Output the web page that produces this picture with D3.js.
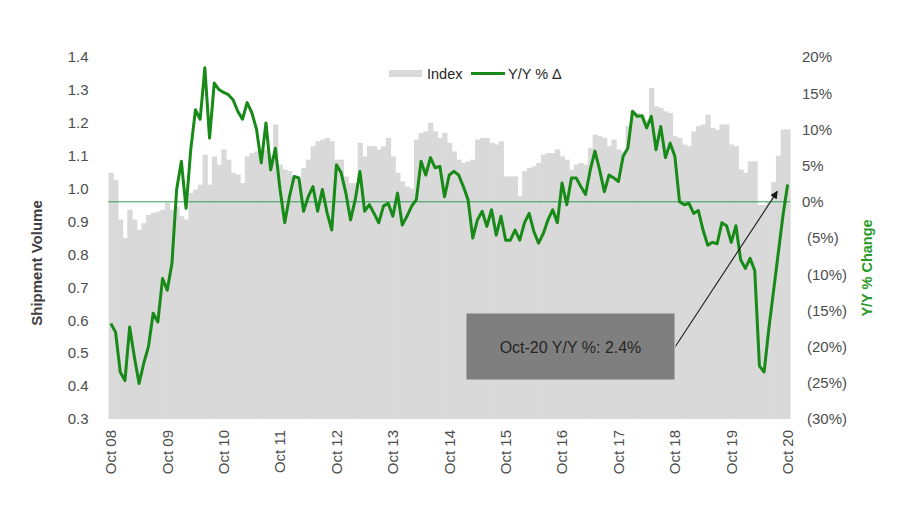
<!DOCTYPE html>
<html>
<head>
<meta charset="utf-8">
<script src="https://cdn.jsdelivr.net/npm/d3@7"></script>
<style>
  html, body { margin: 0; padding: 0; background: #ffffff; }
  svg { display: block; font-family: "Liberation Sans", Arial, sans-serif; }
</style>
</head>
<body>
<svg id="chart" width="913" height="510"></svg>
<script>
// ---- data ----
const xTickLabels = ["Oct 08","Oct 09","Oct 10","Oct 11","Oct 12","Oct 13","Oct 14","Oct 15","Oct 16","Oct 17","Oct 18","Oct 19","Oct 20"];
const leftTicks = [0.3,0.4,0.5,0.6,0.7,0.8,0.9,1.0,1.1,1.2,1.3,1.4];
const rightTicks = [20,15,10,5,0,-5,-10,-15,-20,-25,-30];
const months = d3.range(145); // monthly, Oct 2008 .. Oct 2020

const indexValues = [
  1.048,1.027,0.906,0.850,0.936,0.906,0.875,0.895,0.920,0.926,0.930,0.936,
  0.957,0.936,0.946,0.916,0.906,0.987,0.997,1.012,1.103,1.012,1.098,1.073,
  1.119,1.088,1.048,1.043,1.017,1.098,1.108,1.113,1.098,1.119,1.098,1.195,
  1.073,1.058,1.053,1.032,1.027,1.063,1.088,1.129,1.144,1.149,1.154,1.144,
  1.088,1.088,1.037,1.017,1.017,1.139,1.098,1.129,1.129,1.119,1.129,1.154,
  1.098,1.048,1.022,1.007,1.000,1.149,1.169,1.174,1.200,1.174,1.154,1.169,
  1.139,1.113,1.088,1.078,1.083,1.088,1.149,1.154,1.154,1.139,1.134,1.144,
  1.037,1.037,1.037,0.977,1.053,1.063,1.068,1.078,1.103,1.108,1.108,1.119,
  1.098,1.088,1.058,1.073,1.078,1.073,1.124,1.164,1.159,1.154,1.129,1.149,
  1.119,1.113,1.190,1.235,1.230,1.225,1.210,1.306,1.250,1.245,1.235,1.230,
  1.159,1.154,1.134,1.129,1.174,1.190,1.195,1.225,1.185,1.179,1.195,1.195,
  1.134,1.129,1.058,1.048,1.083,1.083,0.950,0.950,0.960,1.020,1.100,1.180,
  1.180
];

const yoyValues = [
  -16.8,-18.0,-23.5,-24.7,-17.3,-21.4,-25.1,-22.3,-20.0,-15.4,-16.6,-10.6,
  -12.2,-8.5,1.7,5.6,-0.9,7.2,12.7,11.4,18.5,8.8,16.4,15.5,
  15.1,14.8,14.1,12.5,11.4,13.7,12.3,10.0,5.4,10.9,4.4,7.4,
  1.7,-2.9,0.7,3.5,3.3,-1.3,0.7,2.1,-1.3,1.7,-1.5,-3.9,
  5.1,4.0,1.2,-2.5,0.3,4.2,-1.3,-0.4,-1.6,-2.9,-0.6,-0.2,
  -2.0,1.2,-3.2,-2.0,-0.6,0.3,5.6,3.7,6.1,4.7,4.9,0.7,
  3.7,4.2,3.7,2.1,0.3,-5.0,-2.5,-1.3,-3.4,-1.1,-4.6,-2.0,
  -5.3,-5.3,-3.9,-5.3,-2.9,-1.6,-4.1,-5.7,-4.4,-2.5,-1.1,-2.9,
  2.6,-0.4,3.3,3.3,2.1,1.0,4.4,7.0,4.4,1.4,3.7,3.3,
  2.8,6.3,7.4,12.5,11.8,11.9,10.2,11.8,7.2,10.4,6.1,8.1,
  6.3,0.0,-0.4,-0.2,-1.6,-1.2,-3.9,-6.0,-5.6,-5.8,-2.9,-3.3,
  -5.6,-3.3,-8.0,-9.2,-7.8,-9.5,-22.7,-23.5,-17.5,-12.3,-7.1,-1.9,
  2.4
];

const annotationText = "Oct-20 Y/Y %: 2.4%";
const legendLabels = ["Index", "Y/Y % \u0394"];

// ---- layout ----
const svg = d3.select("#chart");
const plot = { left: 108.5, right: 790, top: 57, bottom: 419 };
const GREEN = "#178a17";
const BAR = "#d9d9d9";
const TXT = "#4d4d4d";

const x = d3.scaleBand().domain(months).range([plot.left, plot.right]).padding(0);
const yL = d3.scaleLinear().domain([0.3, 1.4]).range([plot.bottom, plot.top]);
const yR = d3.scaleLinear().domain([-30, 20]).range([plot.bottom, plot.top]);

// bars
svg.append("g")
  .selectAll("rect")
  .data(months)
  .join("rect")
  .attr("x", d => x(d))
  .attr("width", x.bandwidth() + 0.6)
  .attr("y", d => yL(indexValues[d]))
  .attr("height", d => yL(0.3) - yL(indexValues[d]))
  .attr("fill", BAR);

// zero reference line
svg.append("line")
  .attr("x1", plot.left).attr("x2", plot.right)
  .attr("y1", yR(0)).attr("y2", yR(0))
  .attr("stroke", "#2e9a55").attr("stroke-width", 1);

// y/y line
const line = d3.line()
  .x(d => x(d) + x.bandwidth() / 2)
  .y(d => yR(yoyValues[d]));
svg.append("path")
  .datum(months)
  .attr("d", line)
  .attr("fill", "none")
  .attr("stroke", GREEN)
  .attr("stroke-width", 3)
  .attr("stroke-linejoin", "round");

// left axis
const gL = svg.append("g")
  .attr("transform", `translate(${plot.left - 20},0)`)
  .call(d3.axisLeft(yL).tickValues(leftTicks).tickFormat(d3.format(".1f")).tickSize(0).tickPadding(0));
gL.select(".domain").remove();
gL.selectAll("text").attr("fill", TXT).style("font-size", "15px").style("font-family", "Liberation Sans, Arial, sans-serif");

// right axis
const gR = svg.append("g")
  .attr("transform", `translate(802,0)`)
  .call(d3.axisRight(yR).tickValues(rightTicks)
    .tickFormat(v => v >= 0 ? v + "%" : "(" + (-v) + "%)").tickSize(0).tickPadding(0));
gR.select(".domain").remove();
gR.selectAll("text")
  .attr("x", v => v >= 0 ? 0 : 5)
  .attr("fill", TXT).style("font-size", "15px").style("font-family", "Liberation Sans, Arial, sans-serif");

// x axis labels
const tickIdx = xTickLabels.map((_, i) => i * 12);
const gX = svg.append("g")
  .attr("transform", `translate(0,${plot.bottom})`)
  .call(d3.axisBottom(x).tickValues(tickIdx).tickFormat((d, i) => xTickLabels[i]).tickSize(0).tickPadding(0));
gX.select(".domain").remove();
gX.selectAll("text")
  .attr("transform", "rotate(-90)")
  .attr("text-anchor", "end")
  .attr("x", -11)
  .attr("y", 0)
  .attr("dy", "0.35em")
  .attr("fill", TXT).style("font-size", "15px").style("font-family", "Liberation Sans, Arial, sans-serif");

// axis titles
svg.append("text")
  .attr("transform", "translate(42,263) rotate(-90)")
  .attr("text-anchor", "middle")
  .attr("fill", "#404040")
  .style("font-size", "15px").style("font-weight", "bold")
  .text("Shipment Volume");
svg.append("text")
  .attr("transform", "translate(872,268) rotate(-90)")
  .attr("text-anchor", "middle")
  .attr("fill", "#2a9a2a")
  .style("font-size", "14.5px").style("font-weight", "bold")
  .text("Y/Y % Change");

// legend
const lg = svg.append("g");
lg.append("rect").attr("x", 389).attr("y", 70).attr("width", 33).attr("height", 7).attr("fill", BAR);
lg.append("text").attr("x", 427).attr("y", 79).attr("fill", "#262626").style("font-size", "14.5px").text(legendLabels[0]);
lg.append("line").attr("x1", 471).attr("x2", 505).attr("y1", 73.5).attr("y2", 73.5).attr("stroke", GREEN).attr("stroke-width", 3);
lg.append("text").attr("x", 508).attr("y", 79).attr("fill", "#262626").style("font-size", "14.5px").text(legendLabels[1]);

// annotation
svg.append("defs").append("marker")
  .attr("id", "arrow").attr("viewBox", "0 0 10 10").attr("refX", 9).attr("refY", 5)
  .attr("markerWidth", 7).attr("markerHeight", 7).attr("orient", "auto")
  .append("path").attr("d", "M0,0 L10,5 L0,10 z").attr("fill", "#1a1a1a");

const lastIdx = months[months.length - 1];
svg.append("line")
  .attr("x1", 675).attr("y1", 347)
  .attr("x2", x(lastIdx) - 8).attr("y2", yR(yoyValues[lastIdx]) + 7)
  .attr("stroke", "#1a1a1a").attr("stroke-width", 1.1)
  .attr("marker-end", "url(#arrow)");

svg.append("rect")
  .attr("x", 466).attr("y", 313).attr("width", 209).attr("height", 67)
  .attr("fill", "#7f7f7f").attr("stroke", "#d6d6d6").attr("stroke-width", 1);
svg.append("text")
  .attr("x", 570.5).attr("y", 347).attr("dy", "0.35em")
  .attr("text-anchor", "middle").attr("fill", "#262626")
  .style("font-size", "16px")
  .text(annotationText);
</script>
</body>
</html>
